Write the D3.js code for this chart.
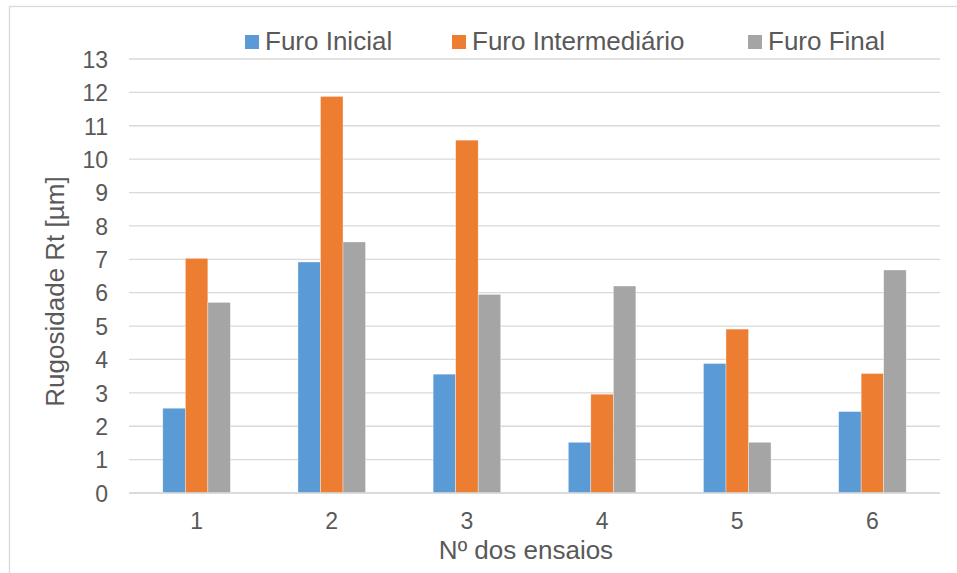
<!DOCTYPE html>
<html><head><meta charset="utf-8">
<script src="https://cdn.jsdelivr.net/npm/d3@7"></script>
<style>html,body{margin:0;padding:0;background:#fff;}svg{display:block;font-family:"Liberation Sans",Arial,sans-serif;}</style>
</head><body>
<svg id="c" width="957" height="573"></svg>
<script>
const categories = ["1","2","3","4","5","6"];
const seriesNames = ["Furo Inicial","Furo Intermediário","Furo Final"];
const furoInicial = [2.54, 6.92, 3.56, 1.52, 3.88, 2.44];
const furoIntermediario = [7.03, 11.88, 10.57, 2.96, 4.91, 3.58];
const furoFinal = [5.71, 7.52, 5.95, 6.20, 1.52, 6.68];
const yTicks = [0,1,2,3,4,5,6,7,8,9,10,11,12,13];
const colors = ["#5B9BD5","#ED7D31","#A5A5A5"];
const yTitle = "Rugosidade Rt [µm]";
const xTitle = "Nº dos ensaios";

const series = [furoInicial, furoIntermediario, furoFinal];
const svg = d3.select("#c");
const L = 129, R = 940, T = 59, B = 493;

// chart border
svg.append("rect").attr("x",9.5).attr("y",6.5).attr("width",1000).attr("height",700)
  .attr("fill","none").attr("stroke","#D9D9D9").attr("stroke-width",1.3);

const x = d3.scaleBand().domain(categories).range([L,R]).paddingInner(0.5).paddingOuter(0.25);
const xs = d3.scaleBand().domain(seriesNames).range([0,x.bandwidth()]);
const y = d3.scaleLinear().domain([0,13]).range([B,T]);

// gridlines
svg.append("g").selectAll("line").data(yTicks).join("line")
  .attr("x1",L).attr("x2",R).attr("y1",d=>y(d)).attr("y2",d=>y(d))
  .attr("stroke","#D9D9D9").attr("stroke-width",1.3);

// y axis labels
const ya = svg.append("g").attr("transform",`translate(${L},0)`)
  .call(d3.axisLeft(y).tickValues(yTicks).tickSize(0).tickPadding(21));
ya.select(".domain").remove();
ya.selectAll("text").attr("fill","#595959").style("font-size","23px").attr("dy","0.36em");

// bars
const rows = categories.map((c,i)=>({c, vals: series.map((s,j)=>({name:seriesNames[j], v:s[i], j}))}));
svg.append("g").selectAll("g").data(rows).join("g")
  .attr("transform",d=>`translate(${x(d.c)},0)`)
  .selectAll("rect").data(d=>d.vals).join("rect")
  .attr("x",d=>xs(d.name)).attr("width",xs.bandwidth())
  .attr("y",d=>y(d.v)).attr("height",d=>y(0)-y(d.v))
  .attr("fill",d=>colors[d.j]).attr("stroke","#fff").attr("stroke-width",0.6).attr("stroke-opacity",0.6);

// x axis line
svg.append("line").attr("x1",L).attr("x2",R).attr("y1",B).attr("y2",B)
  .attr("stroke","#D9D9D9").attr("stroke-width",1.3);

// x axis labels
const xa = svg.append("g").attr("transform",`translate(0,${B})`)
  .call(d3.axisBottom(x).tickSize(0).tickPadding(20));
xa.select(".domain").remove();
xa.selectAll("text").attr("fill","#595959").style("font-size","23px");

// axis titles
svg.append("text").attr("x",526).attr("y",559).attr("text-anchor","middle")
  .attr("fill","#595959").style("font-size","26px").text(xTitle);
svg.append("text").attr("transform","translate(64,291.5) rotate(-90)").attr("text-anchor","middle")
  .attr("fill","#595959").style("font-size","26px").text(yTitle);

// legend
const legX = [245, 452, 748];
const lg = svg.append("g").selectAll("g").data(seriesNames).join("g")
  .attr("transform",(d,i)=>`translate(${legX[i]},0)`);
lg.append("rect").attr("x",0).attr("y",35).attr("width",14).attr("height",14).attr("fill",(d,i)=>colors[i]);
lg.append("text").attr("x",20).attr("y",50).attr("fill","#595959").style("font-size","26px").text(d=>d);
</script>
</body></html>
